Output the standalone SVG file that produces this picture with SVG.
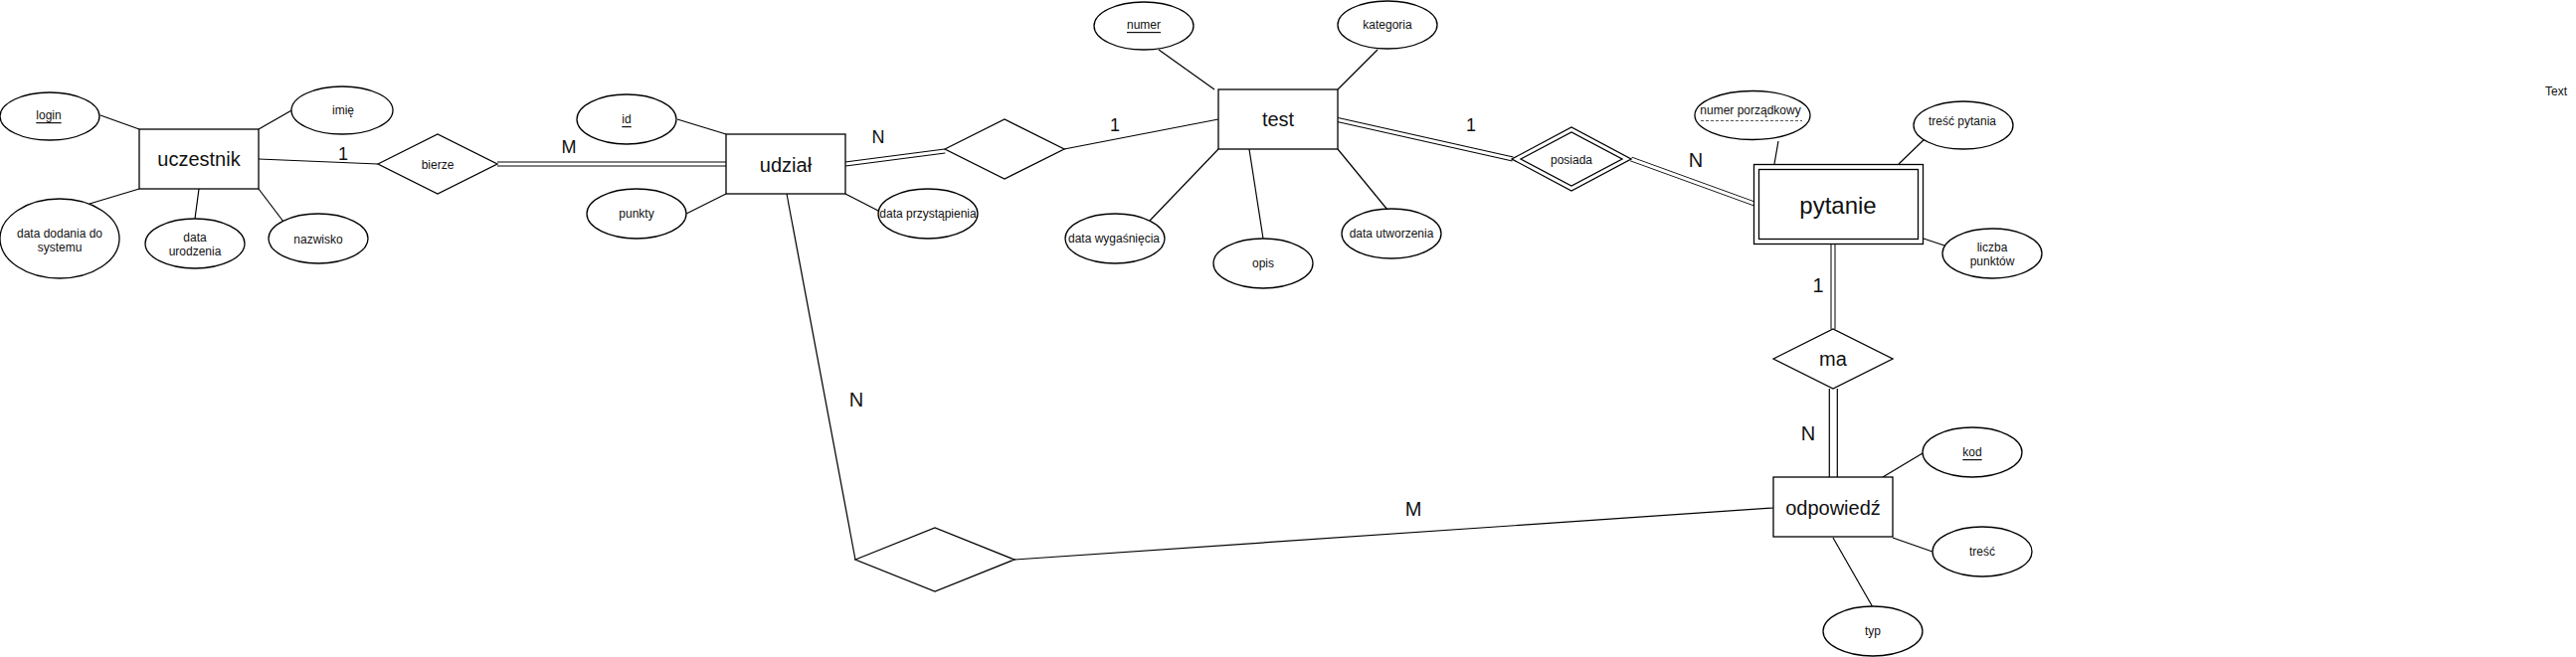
<svg xmlns="http://www.w3.org/2000/svg" width="2590" height="661" viewBox="0 0 2590 661">
<style>
  .ln{stroke:#000;stroke-width:1.2;fill:none}
  .dbo{stroke:#000;stroke-width:5;fill:none}
  .dbi{stroke:#fff;stroke-width:3;fill:none}
  .shape{fill:#fff;stroke:#000;stroke-width:1.3}
  text{font-family:"Liberation Sans",Arial,Helvetica,sans-serif;fill:#111;text-anchor:middle;dominant-baseline:central}
  .ent{font-size:20px}
  .big{font-size:24px}
  .att{font-size:12px}
  .lbl{font-size:18px}
  .lbl2{font-size:20px}
  .u{text-decoration:underline}
</style>
<rect width="2590" height="661" fill="#fff"/>
<g id="connectors">
  <line class="ln" x1="101" y1="116" x2="140" y2="130"/>
  <line class="ln" x1="260" y1="130" x2="295" y2="110"/>
  <line class="ln" x1="140" y1="190" x2="90" y2="205"/>
  <line class="ln" x1="200" y1="190" x2="196" y2="220"/>
  <line class="ln" x1="260" y1="190" x2="285" y2="223"/>
  <line class="ln" x1="260" y1="160" x2="380" y2="165"/>
  <path class="dbo" d="M500,165 L730,165"/><path class="dbi" d="M500,165 L730,165"/>
  <line class="ln" x1="681" y1="120" x2="730" y2="135"/>
  <line class="ln" x1="690" y1="215" x2="730" y2="195"/>
  <line class="ln" x1="850" y1="195" x2="885" y2="213"/>
  <path class="dbo" d="M850,165 L950,152"/><path class="dbi" d="M850,165 L950,152"/>
  <line class="ln" x1="1070" y1="150" x2="1225" y2="120"/>
  <line class="ln" x1="1165" y1="50" x2="1221" y2="90"/>
  <line class="ln" x1="1385" y1="50" x2="1345" y2="90"/>
  <line class="ln" x1="1225" y1="150" x2="1156" y2="222"/>
  <line class="ln" x1="1256" y1="150" x2="1270" y2="240"/>
  <line class="ln" x1="1345" y1="150" x2="1395" y2="211"/>
  <path class="dbo" d="M1345,120.5 L1521,160"/><path class="dbi" d="M1345,120.5 L1521,160"/>
  <path class="dbo" d="M1640,160 L1764,205"/><path class="dbi" d="M1640,160 L1764,205"/>
  <line class="ln" x1="1788" y1="142" x2="1784" y2="165"/>
  <line class="ln" x1="1937" y1="138" x2="1909" y2="165"/>
  <line class="ln" x1="1934" y1="240" x2="1955" y2="247"/>
  <path class="dbo" d="M1843,245 L1843,331"/><path class="dbi" d="M1843,245 L1843,331"/>
  <line class="ln" x1="1839.3" y1="391" x2="1839.3" y2="480"/>
  <line class="ln" x1="1847.3" y1="391" x2="1847.3" y2="480"/>
  <line class="ln" x1="1893" y1="480" x2="1933" y2="456"/>
  <line class="ln" x1="1903" y1="541" x2="1943" y2="555"/>
  <line class="ln" x1="1843" y1="541" x2="1883" y2="611"/>
  <line class="ln" x1="791" y1="195" x2="860" y2="563"/>
  <line class="ln" x1="1020" y1="563" x2="1783" y2="511"/>
  <text class="lbl" x="345" y="155">1</text>
  <text class="lbl" x="572" y="148">M</text>
  <text class="lbl" x="883" y="138">N</text>
  <text class="lbl" x="1121" y="126">1</text>
  <text class="lbl" x="1479" y="126">1</text>
  <text class="lbl2" x="1705" y="161">N</text>
  <text class="lbl2" x="1828" y="287">1</text>
  <text class="lbl2" x="1818" y="436">N</text>
  <text class="lbl2" x="861" y="402">N</text>
  <text class="lbl2" x="1421" y="512">M</text>
</g>
<g id="uczestnik"><rect class="shape" x="140" y="130" width="120" height="60"/><text class="ent" x="200" y="160">uczestnik</text></g>
<g id="login"><ellipse class="shape" cx="50" cy="117" rx="50" ry="24"/><text class="att u" x="49" y="116">login</text></g>
<g id="imie"><ellipse class="shape" cx="344" cy="111" rx="51" ry="24"/><text class="att" x="345" y="111">imię</text></g>
<g id="data_dodania"><ellipse class="shape" cx="60" cy="240" rx="60" ry="40"/><text class="att" x="60" y="235">data dodania do</text><text class="att" x="60" y="248.5">systemu</text></g>
<g id="data_urodzenia"><ellipse class="shape" cx="196" cy="245" rx="50" ry="25"/><text class="att" x="196" y="239">data</text><text class="att" x="196" y="253">urodzenia</text></g>
<g id="nazwisko"><ellipse class="shape" cx="320" cy="240" rx="50" ry="25"/><text class="att" x="320" y="241">nazwisko</text></g>
<g id="bierze"><polygon class="shape" points="380,165 440,135 500,165 440,195"/><text class="att" x="440" y="166">bierze</text></g>
<g id="udzial"><rect class="shape" x="730" y="135" width="120" height="60"/><text class="ent" x="790" y="166">udział</text></g>
<g id="id"><ellipse class="shape" cx="630" cy="120" rx="50" ry="25"/><text class="att u" x="630" y="120">id</text></g>
<g id="punkty"><ellipse class="shape" cx="640" cy="215" rx="50" ry="25"/><text class="att" x="640" y="215">punkty</text></g>
<g id="data_przystapienia"><ellipse class="shape" cx="933" cy="215" rx="50" ry="25"/><text class="att" x="933" y="215">data przystąpienia</text></g>
<g id="rel_udzial_test"><polygon class="shape" points="950,150 1010,120 1070,150 1010,180"/></g>
<g id="test"><rect class="shape" x="1225" y="90" width="120" height="60"/><text class="ent" x="1285" y="120">test</text></g>
<g id="numer"><ellipse class="shape" cx="1150" cy="26" rx="50" ry="24"/><text class="att u" x="1150" y="25">numer</text></g>
<g id="kategoria"><ellipse class="shape" cx="1395" cy="25" rx="50" ry="24"/><text class="att" x="1395" y="25">kategoria</text></g>
<g id="data_wygasniecia"><ellipse class="shape" cx="1121" cy="240" rx="50" ry="25"/><text class="att" x="1120" y="240">data wygaśnięcia</text></g>
<g id="opis"><ellipse class="shape" cx="1270" cy="265" rx="50" ry="25"/><text class="att" x="1270" y="265">opis</text></g>
<g id="data_utworzenia"><ellipse class="shape" cx="1399" cy="235" rx="50" ry="25"/><text class="att" x="1399" y="235">data utworzenia</text></g>
<g id="posiada"><polygon class="shape" points="1520,160 1580,128 1640,160 1580,192"/><polygon class="shape" points="1529,160 1580,133 1631,160 1580,187"/><text class="att" x="1580" y="161">posiada</text></g>
<g id="pytanie"><rect class="shape" x="1763.5" y="165.5" width="170" height="80"/><rect class="shape" x="1768.5" y="170.5" width="160" height="70"/><text class="big" x="1848" y="206">pytanie</text></g>
<g id="numer_porzadkowy"><ellipse class="shape" cx="1762" cy="116" rx="58" ry="24.5"/><text class="att" x="1760" y="111">numer porządkowy</text><line x1="1710" y1="121.5" x2="1812" y2="121.5" stroke="#555" stroke-width="1" stroke-dasharray="3,2"/></g>
<g id="tresc_pytania"><ellipse class="shape" cx="1974" cy="126" rx="50" ry="24"/><text class="att" x="1973" y="122">treść pytania</text></g>
<g id="liczba_punktow"><ellipse class="shape" cx="2003" cy="255" rx="50" ry="25"/><text class="att" x="2003" y="249">liczba</text><text class="att" x="2003" y="262.5">punktów</text></g>
<g id="ma"><polygon class="shape" points="1783,361 1843,331 1903,361 1843,391"/><text class="ent" x="1843" y="361">ma</text></g>
<g id="odpowiedz"><rect class="shape" x="1783" y="480" width="120" height="60"/><text class="ent" x="1843" y="511">odpowiedź</text></g>
<g id="kod"><ellipse class="shape" cx="1983" cy="455" rx="50" ry="25"/><text class="att u" x="1983" y="455">kod</text></g>
<g id="tresc"><ellipse class="shape" cx="1993" cy="555" rx="50" ry="25"/><text class="att" x="1993" y="555">treść</text></g>
<g id="typ"><ellipse class="shape" cx="1883" cy="635" rx="50" ry="25"/><text class="att" x="1883" y="635">typ</text></g>
<g id="rel_udzial_odpowiedz"><polygon class="shape" points="860,563 940,531 1020,563 940,595"/></g>
<g id="text_label"><text class="att" x="2570" y="92">Text</text></g>
</svg>
